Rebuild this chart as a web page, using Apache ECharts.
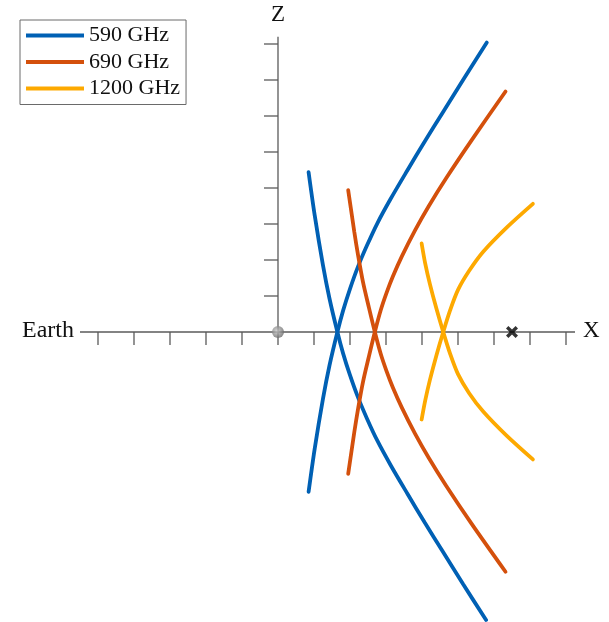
<!DOCTYPE html>
<html>
<head>
<meta charset="utf-8">
<script src="https://cdn.jsdelivr.net/npm/echarts@6/dist/echarts.min.js"></script>
<style>
html,body{margin:0;padding:0;background:#fff;}
#chart{width:609px;height:622px;}
</style>
</head>
<body>
<div id="chart"></div>
<script>
// ---- data ----
const seriesNames = ['590 GHz', '690 GHz', '1200 GHz'];
const seriesColors = ['#0060B4', '#D4500C', '#FDA900'];

// each frequency: two branches, points are [X, Z]
const blueRising = [[0.85,-4.44],[1.02,-3.24],[1.25,-1.85],[1.43,-0.93],[1.65,0],[1.81,0.6],[2.0,1.2],[2.22,1.81],[2.47,2.4],[2.76,3.02],[3.13,3.7],[3.6,4.5],[4.08,5.3],[4.56,6.07],[5.14,7.0],[5.8,8.04]];
const blueFalling = [[0.85,4.44],[1.02,3.24],[1.25,1.85],[1.43,0.93],[1.65,0],[1.81,-0.6],[2.0,-1.2],[2.22,-1.81],[2.47,-2.4],[2.76,-3.02],[3.13,-3.7],[3.6,-4.5],[4.08,-5.3],[4.56,-6.07],[5.14,-7.0],[5.78,-8.0]];
const orangeRising = [[1.95,-3.94],[2.12,-2.78],[2.23,-2.1],[2.36,-1.39],[2.52,-0.7],[2.69,0],[2.855,0.61],[3.02,1.1],[3.19,1.54],[3.44,2.1],[3.81,2.83],[4.19,3.5],[4.67,4.27],[5.38,5.33],[6.32,6.68]];
const orangeFalling = [[1.95,3.94],[2.12,2.78],[2.23,2.1],[2.36,1.39],[2.52,0.7],[2.69,0],[2.855,-0.61],[3.02,-1.1],[3.19,-1.54],[3.44,-2.1],[3.81,-2.83],[4.19,-3.5],[4.67,-4.27],[5.38,-5.33],[6.32,-6.66]];
const yellowRising = [[3.99,-2.43],[4.09,-1.9],[4.22,-1.33],[4.4,-0.65],[4.59,0],[4.78,0.6],[5.0,1.17],[5.31,1.7],[5.7,2.23],[6.35,2.9],[7.08,3.56]];
const yellowFalling = [[3.99,2.46],[4.09,1.9],[4.22,1.33],[4.4,0.65],[4.59,0],[4.78,-0.6],[5.0,-1.17],[5.31,-1.7],[5.7,-2.21],[6.35,-2.88],[7.08,-3.54]];

const earthPos = [[0, 0]];
const targetPos = [[6.5, 0]];

// axis ticks / extents
const xTicks = [-5,-4,-3,-2,-1,0,1,2,3,4,5,6,7,8];
const zTicks = [1,2,3,4,5,6,7,8];
const xAxisExtent = [-5.5, 8.25];
const zAxisExtent = [0, 8.2];
const xLabelLeft = 'Earth';
const xLabelRight = 'X';
const zLabel = 'Z';

// ---- chart ----
const chart = echarts.init(document.getElementById('chart'), null, {renderer: 'canvas'});
const axisColor = '#5a5a5a';
const fontFamily = '"Liberation Serif", "Times New Roman", serif';

function curve(name, color, data) {
  return {
    name: name, type: 'line', data: data, smooth: 0.3,
    showSymbol: false, symbol: 'none', z: 3,
    lineStyle: {color: color, width: 3.8, cap: 'round'},
    itemStyle: {color: color},
    emphasis: {disabled: true}, animation: false
  };
}

const option = {
  animation: false,
  grid: {left: 80, top: 26, width: 495, height: 595.8, containLabel: false},
  xAxis: {type: 'value', min: xAxisExtent[0], max: xAxisExtent[1], show: false},
  yAxis: {type: 'value', min: -8.05, max: 8.5, show: false},
  legend: {
    left: 20, top: 20, orient: 'vertical',
    data: seriesNames,
    icon: 'rect', itemWidth: 58, itemHeight: 4, itemGap: 4.5,
    padding: [4.5, 6, 5, 6],
    borderColor: '#6a6a6a', borderWidth: 1, backgroundColor: '#fff',
    textStyle: {fontFamily: fontFamily, fontSize: 22, color: '#111', lineHeight: 22},
    selectedMode: false
  },
  series: [
    {
      type: 'custom', z: 1, silent: true,
      data: [0],
      renderItem: function (params, api) {
        const ch = [];
        const lineStyle = {stroke: axisColor, lineWidth: 1.3};
        const a = api.coord([xAxisExtent[0], 0]);
        const b = api.coord([xAxisExtent[1], 0]);
        ch.push({type: 'line', shape: {x1: a[0], y1: a[1], x2: b[0], y2: b[1]}, style: lineStyle});
        xTicks.forEach(function (t) {
          const p = api.coord([t, 0]);
          ch.push({type: 'line', shape: {x1: p[0], y1: p[1], x2: p[0], y2: p[1] + 13}, style: lineStyle});
        });
        const c = api.coord([0, zAxisExtent[0]]);
        const d = api.coord([0, zAxisExtent[1]]);
        ch.push({type: 'line', shape: {x1: c[0], y1: c[1], x2: d[0], y2: d[1]}, style: lineStyle});
        zTicks.forEach(function (t) {
          const p = api.coord([0, t]);
          ch.push({type: 'line', shape: {x1: p[0] - 14, y1: p[1], x2: p[0], y2: p[1]}, style: lineStyle});
        });
        ch.push({type: 'text', style: {text: xLabelLeft, x: a[0] - 6, y: a[1] - 1, align: 'right', verticalAlign: 'middle', fill: '#111', font: '24px ' + fontFamily}});
        ch.push({type: 'text', style: {text: xLabelRight, x: b[0] + 8, y: b[1] - 1, align: 'left', verticalAlign: 'middle', fill: '#111', font: '23px ' + fontFamily}});
        ch.push({type: 'text', style: {text: zLabel, x: d[0], y: d[1] - 22, align: 'center', verticalAlign: 'middle', fill: '#111', font: '23px ' + fontFamily}});
        return {type: 'group', children: ch};
      }
    },
    curve(seriesNames[0], seriesColors[0], blueRising),
    curve(seriesNames[0], seriesColors[0], blueFalling),
    curve(seriesNames[1], seriesColors[1], orangeRising),
    curve(seriesNames[1], seriesColors[1], orangeFalling),
    curve(seriesNames[2], seriesColors[2], yellowRising),
    curve(seriesNames[2], seriesColors[2], yellowFalling),
    {
      type: 'scatter', data: earthPos, z: 5, symbolSize: 12, silent: true,
      itemStyle: {
        color: {type: 'radial', x: 0.4, y: 0.4, r: 0.6,
          colorStops: [{offset: 0, color: '#c8c8c8'}, {offset: 1, color: '#6e6e6e'}]}
      }
    },
    {
      type: 'scatter', data: targetPos, z: 5, symbolSize: 12, silent: true,
      symbol: 'path://M0,2 L2,0 L5,3 L8,0 L10,2 L7,5 L10,8 L8,10 L5,7 L2,10 L0,8 L3,5 Z',
      itemStyle: {color: '#000'}
    }
  ]
};
chart.setOption(option);
</script>
</body>
</html>
